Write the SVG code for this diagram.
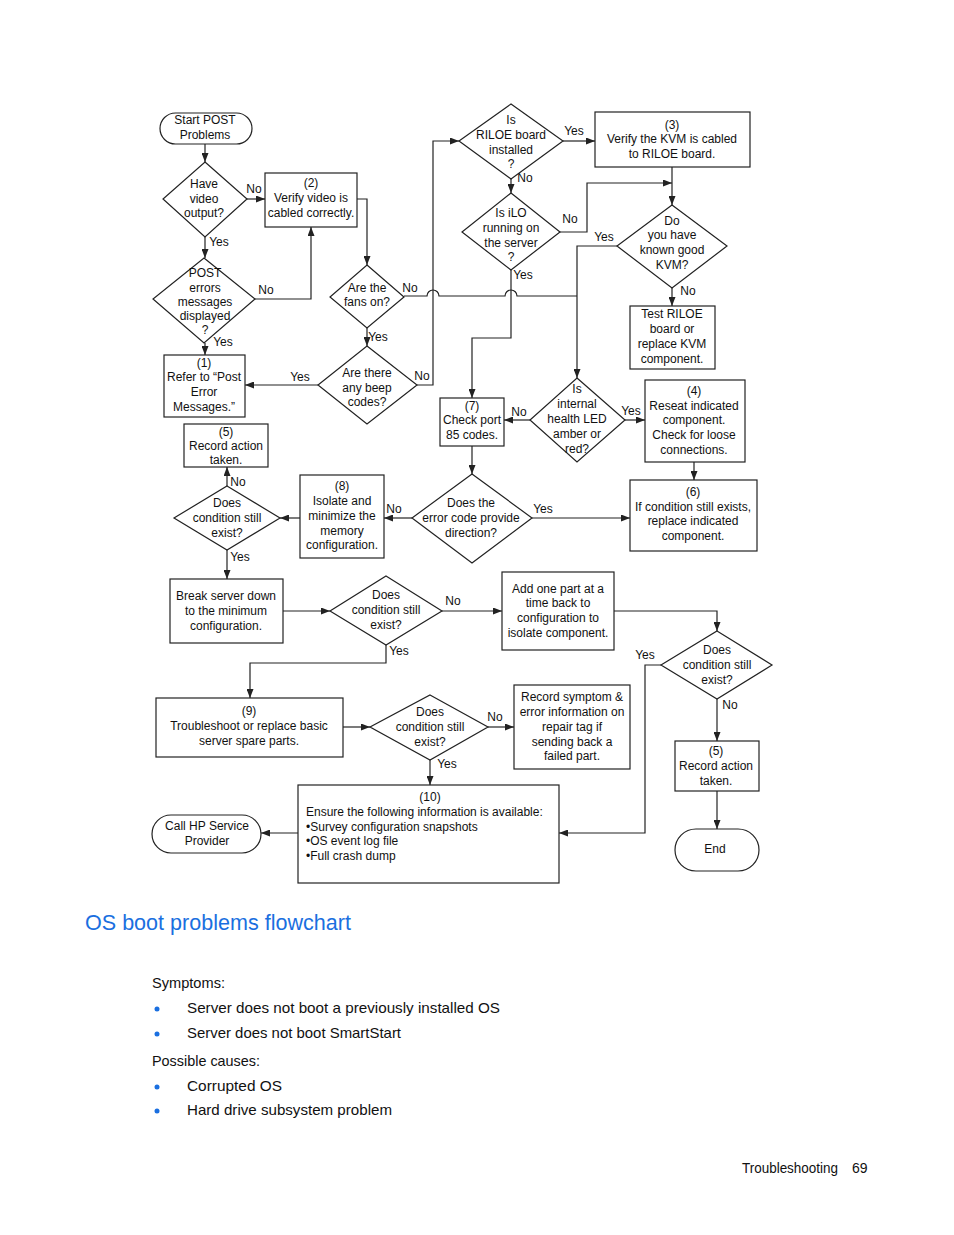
<svg xmlns="http://www.w3.org/2000/svg" width="954" height="1235" viewBox="0 0 954 1235">
<style>
.n{fill:#fff;stroke:#222;stroke-width:1.2}
.t{font-family:"Liberation Sans",Arial,sans-serif;font-size:12px;fill:#111;text-anchor:middle}
.tl{font-family:"Liberation Sans",Arial,sans-serif;font-size:12px;fill:#111}
.c path{fill:none;stroke:#222;stroke-width:1.2}
.c .a{marker-end:url(#ar)}
.p{font-family:"Liberation Sans",Arial,sans-serif;font-size:15px;fill:#111}
.b{fill:#1a6fe0}
</style>
<defs>
<marker id="ar" markerUnits="userSpaceOnUse" markerWidth="9" markerHeight="7" refX="9" refY="3.5" orient="auto">
<path d="M0,0 L9,3.5 L0,7 z" fill="#222"/>
</marker>
</defs>
<rect width="954" height="1235" fill="#fff"/>

<g id="connectors" class="c">
<path class="a" d="M205,144 V162"/>
<path class="a" d="M247,199 H265"/>
<path class="a" d="M205,237 V258"/>
<path class="a" d="M254,299 H311 V227"/>
<path class="a" d="M205,343 V355"/>
<path class="a" d="M357,199 H367 V265"/>
<path class="a" d="M367,328 V346"/>
<path class="a" d="M318,385 H245"/>
<path class="a" d="M417,385 H433 V141 H459"/>
<path d="M404,296 H427 A6,6 0 0 1 439,296 H505 A6,6 0 0 1 517,296 H577"/>
<path class="a" d="M617,246 H577 V378"/>
<path class="a" d="M563,141 H595"/>
<path class="a" d="M511,179 V193"/>
<path class="a" d="M560,232 H587 V183 H672"/>
<path class="a" d="M672,167 V205"/>
<path class="a" d="M672,288 V306"/>
<path class="a" d="M511,270 V338 H472 V398"/>
<path class="a" d="M530,420 H504"/>
<path class="a" d="M625,420 H645"/>
<path class="a" d="M694,462 V480"/>
<path class="a" d="M472,446 V474"/>
<path class="a" d="M532,518 H630"/>
<path class="a" d="M412,518 H384"/>
<path class="a" d="M300,518 H280"/>
<path class="a" d="M227,486 V467"/>
<path class="a" d="M227,550 V579"/>
<path class="a" d="M283,611 H330"/>
<path class="a" d="M442,611 H502"/>
<path class="a" d="M386,645 V663 H250 V698"/>
<path class="a" d="M614,611 H717 V631"/>
<path class="a" d="M661,665 H645 V833 H559"/>
<path class="a" d="M717,699 V741"/>
<path class="a" d="M717,791 V829"/>
<path class="a" d="M343,727 H370"/>
<path class="a" d="M488,727 H514"/>
<path class="a" d="M430,760 V785"/>
<path class="a" d="M298,833 H261"/>
</g>

<g id="labels">
<text class="t" x="254" y="193">No</text>
<text class="t" x="219" y="246">Yes</text>
<text class="t" x="266" y="294">No</text>
<text class="t" x="223" y="346">Yes</text>
<text class="t" x="410" y="292">No</text>
<text class="t" x="378" y="341">Yes</text>
<text class="t" x="300" y="381">Yes</text>
<text class="t" x="422" y="380">No</text>
<text class="t" x="574" y="135">Yes</text>
<text class="t" x="525" y="182">No</text>
<text class="t" x="570" y="223">No</text>
<text class="t" x="523" y="279">Yes</text>
<text class="t" x="604" y="241">Yes</text>
<text class="t" x="688" y="295">No</text>
<text class="t" x="519" y="416">No</text>
<text class="t" x="631" y="415">Yes</text>
<text class="t" x="394" y="513">No</text>
<text class="t" x="543" y="513">Yes</text>
<text class="t" x="238" y="486">No</text>
<text class="t" x="240" y="561">Yes</text>
<text class="t" x="453" y="605">No</text>
<text class="t" x="399" y="655">Yes</text>
<text class="t" x="645" y="659">Yes</text>
<text class="t" x="730" y="709">No</text>
<text class="t" x="495" y="721">No</text>
<text class="t" x="447" y="768">Yes</text>
</g>

<g id="start">
<rect class="n" x="160" y="113" width="92" height="31" rx="15.5"/>
<text class="t" x="205" y="124">Start POST</text>
<text class="t" x="205" y="139">Problems</text>
</g>
<g id="have-video">
<polygon class="n" points="205,162 247,199 205,237 163,199"/>
<text class="t" x="204" y="188">Have</text>
<text class="t" x="204" y="203">video</text>
<text class="t" x="204" y="217">output?</text>
</g>
<g id="box2">
<rect class="n" x="265" y="173" width="92" height="54"/>
<text class="t" x="311" y="187">(2)</text>
<text class="t" x="311" y="202">Verify video is</text>
<text class="t" x="311" y="217">cabled correctly.</text>
</g>
<g id="post-errors">
<polygon class="n" points="204,258 255,299 204,343 153,299"/>
<text class="t" x="205" y="277">POST</text>
<text class="t" x="205" y="292">errors</text>
<text class="t" x="205" y="306">messages</text>
<text class="t" x="205" y="320">displayed</text>
<text class="t" x="205" y="334">?</text>
</g>
<g id="box1">
<rect class="n" x="164" y="355" width="81" height="62"/>
<text class="t" x="204" y="367">(1)</text>
<text class="t" x="204" y="381">Refer to “Post</text>
<text class="t" x="204" y="396">Error</text>
<text class="t" x="204" y="411">Messages.”</text>
</g>
<g id="box5a">
<rect class="n" x="184" y="424" width="84" height="43"/>
<text class="t" x="226" y="436">(5)</text>
<text class="t" x="226" y="450">Record action</text>
<text class="t" x="226" y="464">taken.</text>
</g>
<g id="fans">
<polygon class="n" points="367,265 404,297 367,328 330,297"/>
<text class="t" x="367" y="292">Are the</text>
<text class="t" x="367" y="306">fans on?</text>
</g>
<g id="beep">
<polygon class="n" points="367,346 417,385 367,424 318,385"/>
<text class="t" x="367" y="377">Are there</text>
<text class="t" x="367" y="392">any beep</text>
<text class="t" x="367" y="406">codes?</text>
</g>
<g id="riloe">
<polygon class="n" points="511,104 563,141 511,179 459,141"/>
<text class="t" x="511" y="124">Is</text>
<text class="t" x="511" y="139">RILOE board</text>
<text class="t" x="511" y="154">installed</text>
<text class="t" x="511" y="168">?</text>
</g>
<g id="box3">
<rect class="n" x="595" y="112" width="155" height="55"/>
<text class="t" x="672" y="129">(3)</text>
<text class="t" x="672" y="143">Verify the KVM is cabled</text>
<text class="t" x="672" y="158">to RILOE board.</text>
</g>
<g id="ilo">
<polygon class="n" points="511,193 560,232 511,270 462,232"/>
<text class="t" x="511" y="217">Is iLO</text>
<text class="t" x="511" y="232">running on</text>
<text class="t" x="511" y="247">the server</text>
<text class="t" x="511" y="261">?</text>
</g>
<g id="kvm">
<polygon class="n" points="672,205 727,246 672,288 617,246"/>
<text class="t" x="672" y="225">Do</text>
<text class="t" x="672" y="239">you have</text>
<text class="t" x="672" y="254">known good</text>
<text class="t" x="672" y="269">KVM?</text>
</g>
<g id="test-riloe">
<rect class="n" x="630" y="306" width="85" height="63"/>
<text class="t" x="672" y="318">Test RILOE</text>
<text class="t" x="672" y="333">board or</text>
<text class="t" x="672" y="348">replace KVM</text>
<text class="t" x="672" y="363">component.</text>
</g>
<g id="box7">
<rect class="n" x="440" y="398" width="64" height="48"/>
<text class="t" x="472" y="410">(7)</text>
<text class="t" x="472" y="424">Check port</text>
<text class="t" x="472" y="439">85 codes.</text>
</g>
<g id="health-led">
<polygon class="n" points="577,378 625,420 577,462 530,420"/>
<text class="t" x="577" y="393">Is</text>
<text class="t" x="577" y="408">internal</text>
<text class="t" x="577" y="423">health LED</text>
<text class="t" x="577" y="438">amber or</text>
<text class="t" x="577" y="453">red?</text>
</g>
<g id="box4">
<rect class="n" x="645" y="380" width="100" height="82"/>
<text class="t" x="694" y="395">(4)</text>
<text class="t" x="694" y="410">Reseat indicated</text>
<text class="t" x="694" y="424">component.</text>
<text class="t" x="694" y="439">Check for loose</text>
<text class="t" x="694" y="454">connections.</text>
</g>
<g id="box6">
<rect class="n" x="630" y="480" width="127" height="71"/>
<text class="t" x="693" y="496">(6)</text>
<text class="t" x="693" y="511">If condition still exists,</text>
<text class="t" x="693" y="525">replace indicated</text>
<text class="t" x="693" y="540">component.</text>
</g>
<g id="error-code">
<polygon class="n" points="472,474 532,518 472,563 412,518"/>
<text class="t" x="471" y="507">Does the</text>
<text class="t" x="471" y="522">error code provide</text>
<text class="t" x="471" y="537">direction?</text>
</g>
<g id="box8">
<rect class="n" x="300" y="475" width="84" height="83"/>
<text class="t" x="342" y="490">(8)</text>
<text class="t" x="342" y="505">Isolate and</text>
<text class="t" x="342" y="520">minimize the</text>
<text class="t" x="342" y="535">memory</text>
<text class="t" x="342" y="549">configuration.</text>
</g>
<g id="cond1">
<polygon class="n" points="227,486 280,518 227,550 174,518"/>
<text class="t" x="227" y="507">Does</text>
<text class="t" x="227" y="522">condition still</text>
<text class="t" x="227" y="537">exist?</text>
</g>
<g id="break-down">
<rect class="n" x="170" y="579" width="113" height="64"/>
<text class="t" x="226" y="600">Break server down</text>
<text class="t" x="226" y="615">to the minimum</text>
<text class="t" x="226" y="630">configuration.</text>
</g>
<g id="cond2">
<polygon class="n" points="386,576 442,611 386,645 330,611"/>
<text class="t" x="386" y="599">Does</text>
<text class="t" x="386" y="614">condition still</text>
<text class="t" x="386" y="629">exist?</text>
</g>
<g id="add-part">
<rect class="n" x="502" y="572" width="112" height="78"/>
<text class="t" x="558" y="593">Add one part at a</text>
<text class="t" x="558" y="607">time back to</text>
<text class="t" x="558" y="622">configuration to</text>
<text class="t" x="558" y="637">isolate component.</text>
</g>
<g id="cond3">
<polygon class="n" points="717,631 772,665 717,699 661,665"/>
<text class="t" x="717" y="654">Does</text>
<text class="t" x="717" y="669">condition still</text>
<text class="t" x="717" y="684">exist?</text>
</g>
<g id="box5b">
<rect class="n" x="675" y="741" width="84" height="50"/>
<text class="t" x="716" y="755">(5)</text>
<text class="t" x="716" y="770">Record action</text>
<text class="t" x="716" y="785">taken.</text>
</g>
<g id="end">
<rect class="n" x="675" y="829" width="84" height="42" rx="21"/>
<text class="t" x="715" y="853">End</text>
</g>
<g id="box9">
<rect class="n" x="156" y="698" width="187" height="59"/>
<text class="t" x="249" y="715">(9)</text>
<text class="t" x="249" y="730">Troubleshoot or replace basic</text>
<text class="t" x="249" y="745">server spare parts.</text>
</g>
<g id="cond4">
<polygon class="n" points="430,695 488,727 430,760 370,727"/>
<text class="t" x="430" y="716">Does</text>
<text class="t" x="430" y="731">condition still</text>
<text class="t" x="430" y="746">exist?</text>
</g>
<g id="record-symptom">
<rect class="n" x="514" y="685" width="116" height="84"/>
<text class="t" x="572" y="701">Record symptom &amp;</text>
<text class="t" x="572" y="716">error information on</text>
<text class="t" x="572" y="731">repair tag if</text>
<text class="t" x="572" y="746">sending back a</text>
<text class="t" x="572" y="760">failed part.</text>
</g>
<g id="box10">
<rect class="n" x="298" y="785" width="261" height="98"/>
<text class="t" x="430" y="801">(10)</text>
<text class="tl" x="306" y="816">Ensure the following information is available:</text>
<text class="tl" x="306" y="831">•Survey configuration snapshots</text>
<text class="tl" x="306" y="845">•OS event log file</text>
<text class="tl" x="306" y="860">•Full crash dump</text>
</g>
<g id="call-hp">
<rect class="n" x="152" y="815" width="109" height="38" rx="19"/>
<text class="t" x="207" y="830">Call HP Service</text>
<text class="t" x="207" y="845">Provider</text>
</g>

<g id="page-text">
<text x="85" y="930" font-family="'Liberation Sans',Arial,sans-serif" font-size="22" fill="#1a6fe0" textLength="266" lengthAdjust="spacingAndGlyphs">OS boot problems flowchart</text>
<text class="p" x="152" y="988" textLength="73" lengthAdjust="spacingAndGlyphs">Symptoms:</text>
<circle class="b" cx="157" cy="1009" r="2.5"/>
<text class="p" x="187" y="1013" textLength="313" lengthAdjust="spacingAndGlyphs">Server does not boot a previously installed OS</text>
<circle class="b" cx="157" cy="1034" r="2.5"/>
<text class="p" x="187" y="1038" textLength="214" lengthAdjust="spacingAndGlyphs">Server does not boot SmartStart</text>
<text class="p" x="152" y="1066" textLength="108" lengthAdjust="spacingAndGlyphs">Possible causes:</text>
<circle class="b" cx="157" cy="1087" r="2.5"/>
<text class="p" x="187" y="1091" textLength="95" lengthAdjust="spacingAndGlyphs">Corrupted OS</text>
<circle class="b" cx="157" cy="1111" r="2.5"/>
<text class="p" x="187" y="1115" textLength="205" lengthAdjust="spacingAndGlyphs">Hard drive subsystem problem</text>
<text x="742" y="1173" font-family="'Liberation Sans',Arial,sans-serif" font-size="14" fill="#111" textLength="96" lengthAdjust="spacingAndGlyphs">Troubleshooting</text>
<text x="852" y="1173" font-family="'Liberation Sans',Arial,sans-serif" font-size="14" fill="#111">69</text>
</g>
</svg>
